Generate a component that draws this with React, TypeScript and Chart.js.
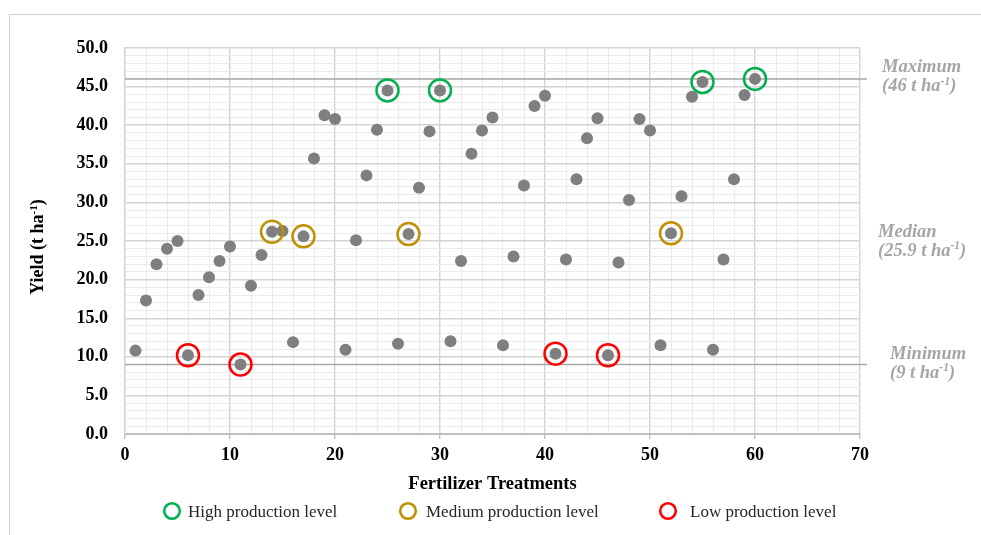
import React, { useEffect, useRef } from 'react';
import { Chart, registerables } from 'chart.js';

Chart.register(...registerables);

// ---------- data ----------
const treatments = [
  1, 2, 3, 4, 5, 6, 7, 8, 9, 10,
  11, 12, 13, 14, 15, 16, 17, 18, 19, 20,
  21, 22, 23, 24, 25, 26, 27, 28, 29, 30,
  31, 32, 33, 34, 35, 36, 37, 38, 39, 40,
  41, 42, 43, 44, 45, 46, 47, 48, 49, 50,
  51, 52, 53, 54, 55, 56, 57, 58, 59, 60,
];
const yields = [
  10.8, 17.3, 22.0, 24.0, 25.0, 10.2, 18.0, 20.3, 22.4, 24.3,
  9.0, 19.2, 23.2, 26.2, 26.3, 11.9, 25.6, 35.7, 41.3, 40.8,
  10.9, 25.1, 33.5, 39.4, 44.5, 11.7, 25.9, 31.9, 39.2, 44.5,
  12.0, 22.4, 36.3, 39.3, 41.0, 11.5, 23.0, 32.2, 42.5, 43.8,
  10.4, 22.6, 33.0, 38.3, 40.9, 10.2, 22.2, 30.3, 40.8, 39.3,
  11.5, 26.0, 30.8, 43.7, 45.6, 10.9, 22.6, 33.0, 43.9, 46.0,
];
const highTreatments = [25, 30, 55, 60];
const mediumTreatments = [14, 17, 27, 52];
const lowTreatments = [6, 11, 41, 46];

const levelNames = ['Maximum', 'Median', 'Minimum'];
const levelValues = [46, 25.9, 9];
const seriesLabels = ['High production level', 'Medium production level', 'Low production level'];
const xTitle = 'Fertilizer Treatments';
const yTitle = 'Yield (t ha';

// ---------- styling ----------
const FONT = "'Liberation Serif', 'Times New Roman', serif";
const GREEN = '#00b050';
const GOLD = '#bf9000';
const RED = '#ff0000';

const pointsFor = (ids: number[]) => ids.map((t) => ({ x: t, y: yields[treatments.indexOf(t)] }));

function drawParts(ctx: CanvasRenderingContext2D, x: number, y: number, parts: [string, boolean][], size: number, style: string) {
  let cx = x;
  for (const [txt, sup] of parts) {
    const s = sup ? size * 0.62 : size;
    ctx.font = `${style} ${s}px ${FONT}`;
    ctx.fillText(txt, cx, sup ? y - size * 0.36 : y);
    cx += ctx.measureText(txt).width;
  }
  return cx - x;
}

const extrasPlugin = {
  id: 'extras',
  beforeDatasetsDraw(chart: any) {
    const { ctx, chartArea, scales } = chart;
    ctx.save();
    ctx.strokeStyle = '#a6a6a6';
    ctx.lineWidth = 1.5;
    [levelValues[0], levelValues[2]].forEach((v) => {
      const py = scales.y.getPixelForValue(v);
      ctx.beginPath();
      ctx.moveTo(chartArea.left, py);
      ctx.lineTo(chartArea.right + 7, py);
      ctx.stroke();
    });
    ctx.restore();
  },
  afterDraw(chart: any) {
    const { ctx, chartArea, scales } = chart;
    ctx.save();
    // reference level annotations
    ctx.fillStyle = '#a6a6a6';
    ctx.textBaseline = 'alphabetic';
    ctx.textAlign = 'left';
    const dx = [22, 18, 30];
    const dy = [-6.5, 3, -6];
    levelNames.forEach((name, i) => {
      const py = scales.y.getPixelForValue(levelValues[i]);
      const x = chartArea.right + dx[i];
      const b = py + dy[i];
      drawParts(ctx, x, b, [[name, false]], 18.5, 'italic bold');
      drawParts(ctx, x, b + 19, [[`(${levelValues[i]} t ha`, false], ['-1', true], [')', false]], 18.5, 'italic bold');
    });

    // y axis title (rotated)
    ctx.fillStyle = '#000';
    ctx.save();
    const parts: [string, boolean][] = [[yTitle, false], ['-1', true], [')', false]];
    let w = 0;
    for (const [t, sup] of parts) {
      ctx.font = `bold ${sup ? 18 * 0.62 : 18}px ${FONT}`;
      w += ctx.measureText(t).width;
    }
    ctx.translate(43, (chartArea.top + chartArea.bottom) / 2 + 6);
    ctx.rotate(-Math.PI / 2);
    drawParts(ctx, -w / 2, 0, parts, 18, 'bold');
    ctx.restore();

    // legend
    const ringX = [172, 408, 668];
    const textX = [188, 426, 690];
    const ly = 511;
    for (let i = 0; i < 3; i++) {
      const ds = chart.data.datasets[i + 1];
      ctx.beginPath();
      ctx.strokeStyle = ds.borderColor;
      ctx.lineWidth = 2.6;
      ctx.arc(ringX[i], ly, 7.8, 0, Math.PI * 2);
      ctx.stroke();
      ctx.fillStyle = '#262626';
      ctx.font = `17px ${FONT}`;
      ctx.textBaseline = 'alphabetic';
      ctx.fillText(ds.label, textX[i], ly + 5.5);
    }
    ctx.restore();
  },
};

export default function App() {
  const ref = useRef<HTMLCanvasElement | null>(null);

  useEffect(() => {
    if (!ref.current) return;
    const ringDs = (label: string, ids: number[], color: string) => ({
      label,
      data: pointsFor(ids),
      pointRadius: 11,
      pointHoverRadius: 11,
      pointBorderWidth: 2.5,
      borderColor: color,
      pointBorderColor: color,
      backgroundColor: 'rgba(0,0,0,0)',
      pointBackgroundColor: 'rgba(0,0,0,0)',
      showLine: false,
      order: 0,
    });
    const chart = new Chart(ref.current, {
      type: 'scatter',
      data: {
        datasets: [
          {
            label: 'Yield',
            data: treatments.map((t, i) => ({ x: t, y: yields[i] })),
            pointRadius: 6,
            pointHoverRadius: 6,
            pointBorderWidth: 0,
            backgroundColor: '#7f7f7f',
            pointBackgroundColor: '#7f7f7f',
            borderColor: '#7f7f7f',
            showLine: false,
            order: 10,
          },
          ringDs(seriesLabels[0], highTreatments, GREEN),
          ringDs(seriesLabels[1], mediumTreatments, GOLD),
          ringDs(seriesLabels[2], lowTreatments, RED),
        ],
      } as any,
      options: {
        responsive: false,
        animation: false,
        events: [],
        layout: { padding: { left: 0, right: 121, top: 48, bottom: 31 } },
        plugins: {
          legend: { display: false },
          tooltip: { enabled: false },
        },
        scales: {
          x: {
            type: 'linear',
            min: 0,
            max: 70,
            ticks: {
              stepSize: 2,
              autoSkip: false,
              maxRotation: 0,
              padding: 6,
              color: '#000',
              font: { family: FONT, size: 18, weight: 'bold' },
              callback: (v: any) => (Number(v) % 10 === 0 ? String(v) : ''),
            },
            grid: {
              color: (c: any) => (c.tick && c.tick.value % 10 === 0 ? '#d4d4d4' : '#ebebeb'),
              lineWidth: (c: any) => (c.tick && c.tick.value % 10 === 0 ? 1.4 : 1),
              drawTicks: true,
              tickLength: 5,
              tickColor: (c: any) => (c.tick && c.tick.value % 10 === 0 ? '#bfbfbf' : 'rgba(0,0,0,0)'),
            },
            border: { color: '#bfbfbf', width: 2 },
            title: {
              display: true,
              text: xTitle,
              color: '#000',
              font: { family: FONT, size: 18.5, weight: 'bold' },
              padding: { top: 0, bottom: 9 },
            },
            afterFit: (s: any) => {
              s.height = 70;
            },
          },
          y: {
            type: 'linear',
            min: 0,
            max: 50,
            ticks: {
              stepSize: 1,
              autoSkip: false,
              padding: 17,
              color: '#000',
              font: { family: FONT, size: 18, weight: 'bold' },
              callback: (v: any) => (Number(v) % 5 === 0 ? Number(v).toFixed(1) : ''),
            },
            grid: {
              color: (c: any) => (c.tick && c.tick.value % 5 === 0 ? '#d4d4d4' : '#ebebeb'),
              lineWidth: (c: any) => (c.tick && c.tick.value % 5 === 0 ? 1.4 : 1),
              drawTicks: false,
            },
            border: { color: '#d4d4d4', width: 1.4 },
            afterFit: (s: any) => {
              s.width = 125;
            },
          },
        },
      } as any,
      plugins: [extrasPlugin],
    });
    return () => chart.destroy();
  }, []);

  return (
    <div style={{ position: 'fixed', left: 0, top: 0, width: 981, height: 535, overflow: 'hidden', background: '#fff' }}>
      <div
        style={{
          position: 'absolute',
          left: 9,
          top: 14,
          width: 1000,
          height: 600,
          borderLeft: '1px solid #d0d0d0',
          borderTop: '1px solid #d0d0d0',
        }}
      />
      <canvas ref={ref} width={981} height={535} style={{ position: 'absolute', left: 0, top: 0 }} />
    </div>
  );
}
